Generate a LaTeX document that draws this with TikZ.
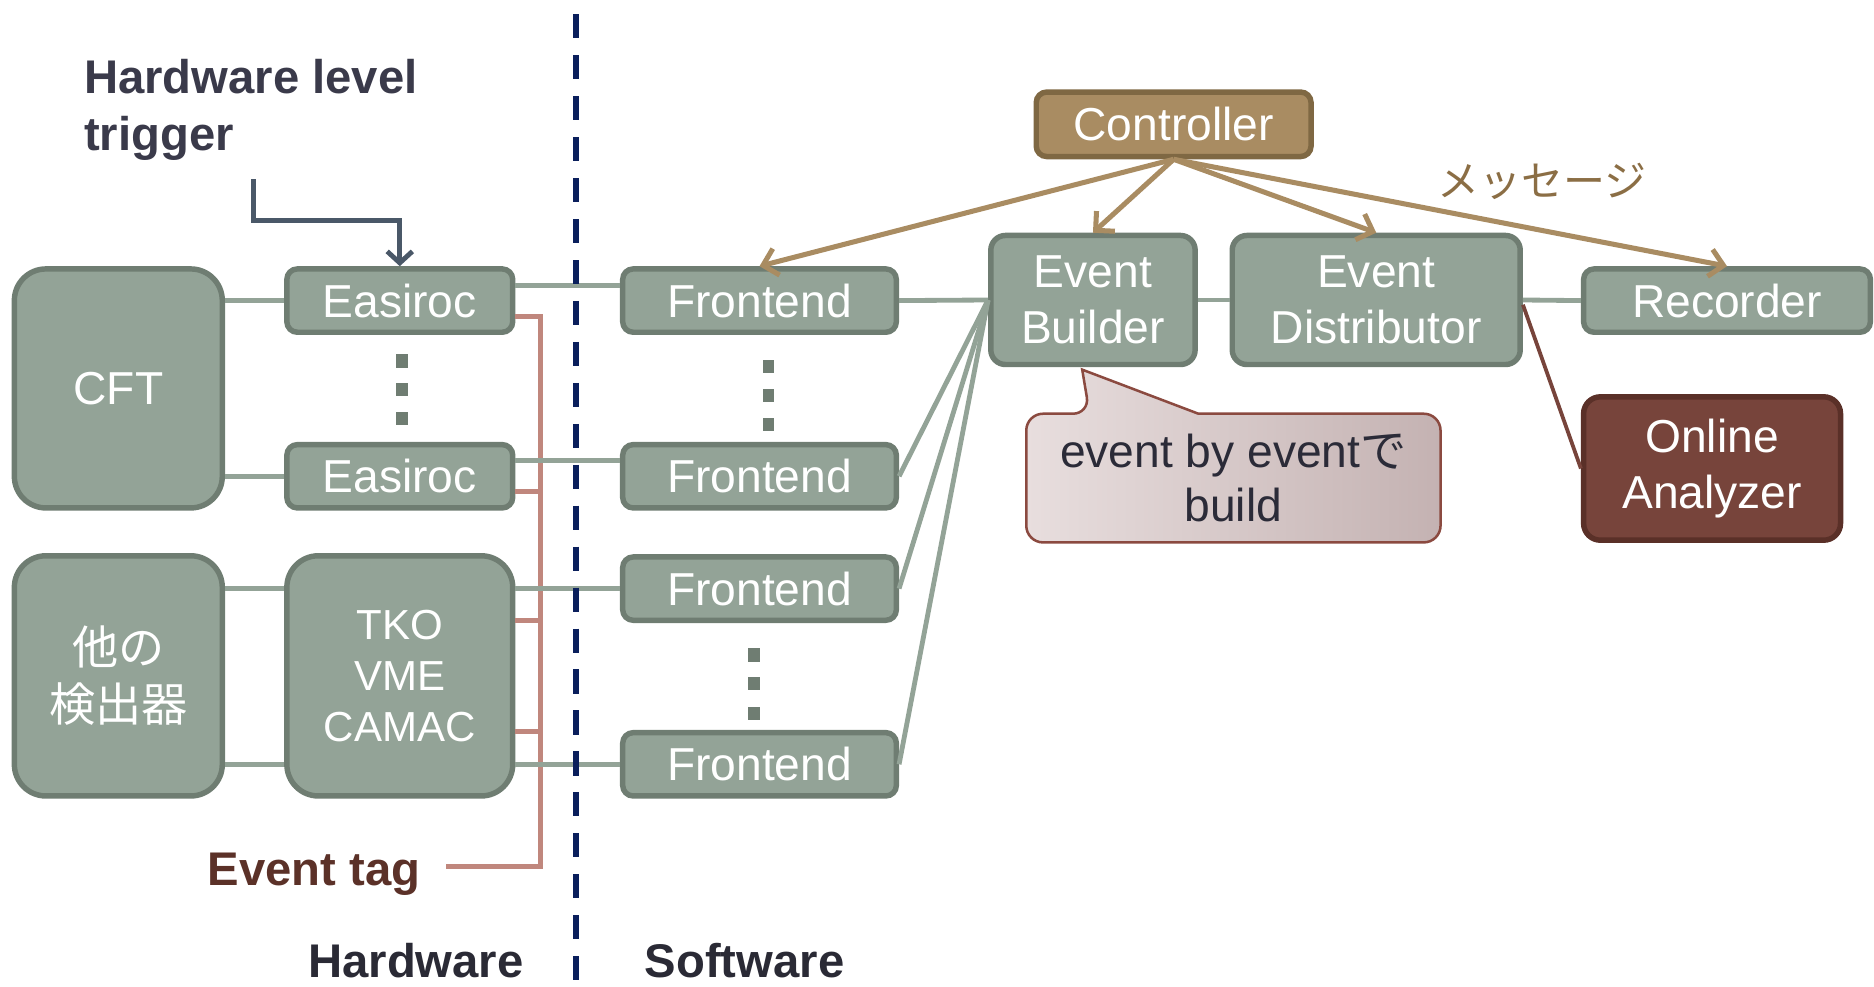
\documentclass[tikz,border=0pt]{standalone}
\usepackage{fontspec}
\setmainfont{Liberation Sans}
\newfontfamily\jp{Noto Sans CJK JP}
\usepackage{tikz}
\usetikzlibrary{arrows.meta,calc,backgrounds}
\usepackage{xcolor}
\definecolor{boxfill}{RGB}{147,163,151}
\definecolor{boxedge}{RGB}{111,125,114}
\definecolor{ctrlfill}{RGB}{169,140,98}
\definecolor{ctrledge}{RGB}{127,104,67}
\definecolor{msgc}{RGB}{139,110,69}
\definecolor{oafill}{RGB}{119,68,59}
\definecolor{oaedge}{RGB}{90,48,40}
\definecolor{tagc}{RGB}{192,135,125}
\definecolor{tagtext}{RGB}{91,49,40}
\definecolor{trigc}{RGB}{74,88,104}
\definecolor{trigtext}{RGB}{58,58,74}
\definecolor{divc}{RGB}{10,31,92}
\definecolor{labc}{RGB}{42,42,53}
\definecolor{notel}{RGB}{232,222,222}
\definecolor{noter}{RGB}{196,178,178}
\definecolor{noteedge}{RGB}{139,74,64}
\definecolor{notetext}{RGB}{43,43,56}
\newcommand{\boxfont}{\fontsize{22}{26.6}\selectfont}
\newcommand{\headfont}{\fontsize{22.5}{27.2}\selectfont\bfseries}

\begin{document}
\begin{tikzpicture}[x=0.02cm,y=-0.02cm,>={Straight Barb[length=6.5pt,width=13pt]},
  blk/.style={draw=boxedge,fill=boxfill,line width=2.6pt,rounded corners=5pt,
    text=white,font=\boxfont,align=center,inner sep=0pt},
  link/.style={draw=boxfill,line width=2.3pt},
  cmd/.style={->,draw=ctrlfill,line width=2.4pt},
  tag/.style={draw=tagc,line width=2.3pt}]
  \useasboundingbox (0,0) rectangle (1568,825);

  % hardware side
  \node[blk,minimum width=3.48cm,minimum height=4cm,rounded corners=15pt] (cft) at (99,325) {CFT};
  \node[blk,minimum width=3.78cm,minimum height=1.06cm] (ezA) at (334.5,251.5) {Easiroc};
  \node[blk,minimum width=3.78cm,minimum height=1.06cm] (ezB) at (334.5,398.5) {Easiroc};
  \node[blk,minimum width=3.48cm,minimum height=4.02cm,rounded corners=15pt,
    font=\jp\fontsize{22}{27}\selectfont] (other) at (99,565.5) {他の\\検出器};
  \node[blk,minimum width=3.78cm,minimum height=4.02cm,rounded corners=15pt,
    font=\fontsize{20}{24.4}\selectfont] (tko) at (334.5,565.5) {TKO\\VME\\CAMAC};

  % software side
  \foreach \n/\y in {A/251.5,B/398.5,C/492.5,D/639.5}
    \node[blk,minimum width=4.58cm,minimum height=1.06cm] (fe\n) at (635.5,\y) {Frontend};
  \node[blk,minimum width=3.42cm,minimum height=2.16cm,rounded corners=7pt] (eb) at (914.5,251) {Event\\Builder};
  \node[blk,minimum width=4.82cm,minimum height=2.16cm,rounded corners=7pt] (ed) at (1151.5,251) {Event\\Distributor};
  \node[blk,minimum width=4.80cm,minimum height=1.06cm] (rec) at (1445,251.5) {Recorder};
  \node[blk,minimum width=4.60cm,minimum height=1.08cm,draw=ctrledge,fill=ctrlfill] (ctrl) at (982,104) {Controller};
  \node[blk,minimum width=4.30cm,minimum height=2.40cm,rounded corners=8pt,
    draw=oaedge,fill=oafill] (oa) at (1432.5,392) {Online\\Analyzer};

  % event tag bus
  \node[font=\headfont,text=tagtext,anchor=base east,inner sep=0pt] (evtag) at (352,741) {Event tag};
  \coordinate (tagbus) at (452,725);
  \coordinate (tagend) at (373,725);
  \draw[tag] ($(ezA.east)+(0,13.5)$) -| (tagbus) -- (tagend);
  \foreach \b/\dy in {ezB/12.5,tko/-46.5,tko/46.5}
    \draw[tag] ($(\b.east)+(0,\dy)$) -- ++(23,0);

  % data links
  \coordinate (ezAout) at ($(ezA.east)+(0,-12.5)$);
  \coordinate (ezBout) at ($(ezB.east)+(0,-13.5)$);
  \draw[link] (cft.east |- ezA.west) -- (ezA.west);
  \draw[link] (cft.east |- ezB.west) -- (ezB.west);
  \draw[link] (other.east |- feC.west) -- (tko.west |- feC.west);
  \draw[link] (other.east |- feD.west) -- (tko.west |- feD.west);
  \draw[link] (ezAout) -- (ezAout -| feA.west);
  \draw[link] (ezBout) -- (ezBout -| feB.west);
  \draw[link] (tko.east |- feC.west) -- (feC.west);
  \draw[link] (tko.east |- feD.west) -- (feD.west);
  \foreach \n in {A,B,C,D}
    \draw[link] (fe\n.east) -- (eb.west);
  \draw[link] (eb.east) -- (ed.west);
  \draw[link] (ed.east) -- (rec.west);
  \draw[draw=oafill,line width=1.8pt] ($(ed.east)+(0,4)$) -- (oa.west);

  % messages from the controller
  \foreach \t in {feA,eb,ed,rec}
    \draw[cmd] (ctrl.south) -- (\t.north);
  \node[font=\jp\fontsize{20}{24}\selectfont,text=msgc] (msg) at (1290,152) {メッセージ};

  % trigger
  \node[font=\headfont,text=trigtext,align=left,anchor=north west,inner sep=0pt] (hwtrig) at (70,49) {Hardware level\\trigger};
  \coordinate (trig) at (212,150);
  \draw[->,draw=trigc,line width=2.3pt,>={Straight Barb[length=5.5pt,width=12pt]}]
    (trig) |- ($(ezA.north)+(0,-38)$) -- (ezA.north);

  % dots
  \foreach \x/\y in {336/302,336/326,336/350,643/307,643/331,643/355,631/548,631/572,631/597}
    \fill[boxedge] (\x-5,\y-5.5) rectangle (\x+5,\y+5.5);

  % hardware / software border
  \draw[divc,line width=3pt,dash pattern=on 11.5pt off 8pt] (482,12) -- (482,825);
  \node[font=\headfont,text=labc,anchor=base] (hw) at (348,818) {Hardware};
  \node[font=\headfont,text=labc,anchor=base] (sw) at (623,818) {Software};

  % callout
  \node[font=\fontsize{22}{25.5}\selectfont,text=notetext,align=center,
    minimum width=6.92cm,minimum height=2.14cm,inner sep=0pt] (note) at (1032,400) {event by event{\jp で}\\build};
  \coordinate (tip) at ($(eb.south)+(-9,2)$);
  \begin{scope}[on background layer]
    \path[draw=noteedge,line width=1.2pt,left color=notel,right color=noter]
      ($(note.north west)+(144,0)$) [rounded corners=8pt] -- (note.north east)
      -- (note.south east) -- (note.south west) -- (note.north west)
      -- ($(note.north west)+(53,0)$) [sharp corners] -- (tip) -- cycle;
  \end{scope}
\end{tikzpicture}
\end{document}
